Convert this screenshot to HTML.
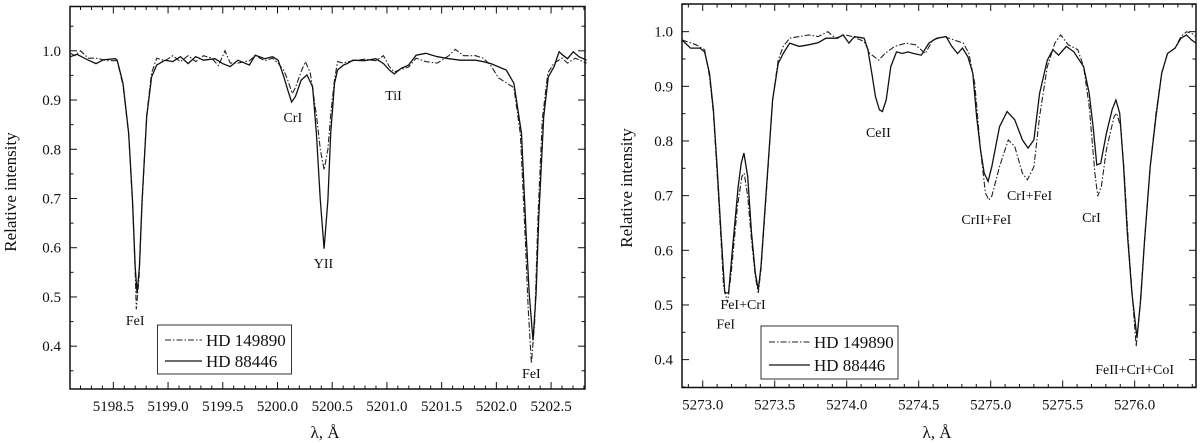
<!DOCTYPE html>
<html><head><meta charset="utf-8"><style>
html,body{margin:0;padding:0;background:#fff;}
svg{display:block;font-family:"Liberation Serif",serif;}
</style></head><body>
<svg id="chart" width="1200" height="443" viewBox="0 0 1200 443" xmlns="http://www.w3.org/2000/svg"></svg>
<script>
// ---- Left panel data ----
const leftSolidWl=[5198.108,5198.167,5198.272,5198.342,5198.412,5198.518,5198.535,5198.588,5198.640,5198.675,5198.700,5198.717,5198.738,5198.763,5198.805,5198.850,5198.896,5198.973,5199.043,5199.113,5199.183,5199.253,5199.323,5199.428,5199.498,5199.568,5199.638,5199.743,5199.796,5199.884,5199.954,5200.006,5200.059,5200.094,5200.129,5200.164,5200.216,5200.269,5200.321,5200.356,5200.391,5200.426,5200.461,5200.486,5200.521,5200.549,5200.602,5200.637,5200.689,5200.794,5200.899,5200.969,5201.022,5201.067,5201.127,5201.197,5201.267,5201.355,5201.460,5201.565,5201.670,5201.810,5201.880,5201.950,5202.090,5202.160,5202.230,5202.272,5202.300,5202.335,5202.363,5202.388,5202.433,5202.475,5202.528,5202.573,5202.608,5202.650,5202.703,5202.755,5202.825];
const leftSolidI=[0.988,0.993,0.981,0.974,0.982,0.984,0.981,0.934,0.832,0.697,0.561,0.507,0.561,0.697,0.866,0.947,0.971,0.981,0.978,0.988,0.974,0.988,0.981,0.984,0.974,0.968,0.981,0.971,0.991,0.984,0.988,0.981,0.947,0.920,0.896,0.907,0.940,0.951,0.927,0.832,0.697,0.598,0.697,0.832,0.934,0.961,0.971,0.974,0.981,0.980,0.984,0.974,0.961,0.953,0.964,0.971,0.991,0.995,0.988,0.984,0.981,0.981,0.978,0.974,0.961,0.934,0.832,0.629,0.507,0.412,0.507,0.663,0.866,0.947,0.968,0.998,0.991,0.984,0.998,0.988,0.981];
const leftDashWl=[5198.108,5198.150,5198.200,5198.272,5198.342,5198.450,5198.535,5198.588,5198.640,5198.675,5198.700,5198.710,5198.735,5198.763,5198.805,5198.850,5198.896,5198.973,5199.043,5199.113,5199.183,5199.253,5199.323,5199.400,5199.460,5199.520,5199.568,5199.638,5199.743,5199.796,5199.884,5199.954,5200.006,5200.059,5200.094,5200.135,5200.164,5200.220,5200.255,5200.300,5200.356,5200.391,5200.426,5200.461,5200.486,5200.520,5200.549,5200.602,5200.689,5200.794,5200.899,5200.969,5201.022,5201.067,5201.127,5201.197,5201.267,5201.355,5201.460,5201.565,5201.625,5201.700,5201.810,5201.880,5201.950,5202.020,5202.090,5202.160,5202.220,5202.262,5202.290,5202.320,5202.350,5202.380,5202.420,5202.470,5202.528,5202.600,5202.650,5202.720,5202.825];
const leftDashI=[0.995,0.990,1.000,0.985,0.985,0.980,0.980,0.930,0.830,0.690,0.550,0.475,0.540,0.690,0.870,0.955,0.985,0.980,0.990,0.978,0.990,0.978,0.990,0.985,0.970,1.000,0.975,0.975,0.980,0.990,0.980,0.985,0.975,0.960,0.940,0.913,0.925,0.960,0.978,0.955,0.870,0.800,0.758,0.800,0.870,0.940,0.978,0.975,0.980,0.983,0.980,0.990,0.968,0.957,0.962,0.967,0.985,0.978,0.975,0.990,1.003,0.990,0.990,0.985,0.970,0.945,0.935,0.925,0.830,0.630,0.480,0.365,0.450,0.660,0.860,0.955,0.975,0.985,0.975,0.985,0.975];
const leftXTicks=["5198.5","5199.0","5199.5","5200.0","5200.5","5201.0","5201.5","5202.0","5202.5"];
const leftYTicks=["0.4","0.5","0.6","0.7","0.8","0.9","1.0"];
const leftLabels=["FeI","CrI","YII","TiI","FeI"];
const leftLabelWl=[5198.70,5200.14,5200.42,5201.06,5202.32];
const leftLabelI=[0.443,0.855,0.559,0.900,0.335];
// ---- Right panel data ----
const rightSolidWl=[5272.856,5272.915,5272.981,5273.013,5273.047,5273.074,5273.100,5273.127,5273.153,5273.180,5273.206,5273.246,5273.267,5273.286,5273.312,5273.339,5273.365,5273.386,5273.405,5273.445,5273.485,5273.524,5273.559,5273.604,5273.670,5273.736,5273.803,5273.856,5273.935,5273.975,5274.015,5274.054,5274.121,5274.147,5274.174,5274.200,5274.227,5274.248,5274.274,5274.306,5274.346,5274.386,5274.425,5274.465,5274.518,5274.571,5274.624,5274.690,5274.730,5274.770,5274.804,5274.842,5274.876,5274.902,5274.929,5274.955,5274.982,5275.008,5275.061,5275.114,5275.167,5275.220,5275.260,5275.300,5275.340,5275.393,5275.432,5275.472,5275.525,5275.578,5275.645,5275.684,5275.711,5275.737,5275.764,5275.804,5275.843,5275.870,5275.896,5275.923,5275.949,5275.981,5276.016,5276.042,5276.069,5276.108,5276.148,5276.188,5276.228,5276.281,5276.321,5276.360,5276.395,5276.426];
const rightSolidI=[0.985,0.970,0.970,0.963,0.924,0.857,0.753,0.632,0.522,0.522,0.601,0.717,0.759,0.778,0.735,0.632,0.558,0.528,0.571,0.723,0.875,0.942,0.960,0.979,0.973,0.976,0.980,0.988,0.988,0.994,0.979,0.991,0.988,0.967,0.924,0.881,0.857,0.854,0.875,0.936,0.963,0.960,0.963,0.960,0.957,0.979,0.988,0.991,0.973,0.960,0.970,0.954,0.924,0.845,0.784,0.741,0.726,0.753,0.826,0.854,0.839,0.802,0.787,0.802,0.887,0.948,0.967,0.957,0.973,0.963,0.936,0.887,0.826,0.756,0.759,0.814,0.857,0.875,0.851,0.753,0.632,0.522,0.440,0.510,0.619,0.753,0.845,0.924,0.960,0.970,0.988,0.994,0.985,0.979];
const rightDashWl=[5272.856,5272.954,5273.013,5273.047,5273.074,5273.100,5273.127,5273.145,5273.172,5273.198,5273.241,5273.272,5273.288,5273.312,5273.339,5273.365,5273.386,5273.405,5273.445,5273.485,5273.524,5273.559,5273.604,5273.670,5273.736,5273.803,5273.869,5273.922,5273.988,5274.041,5274.121,5274.161,5274.222,5274.266,5274.333,5274.412,5274.478,5274.545,5274.598,5274.677,5274.743,5274.810,5274.849,5274.889,5274.929,5274.963,5274.987,5275.008,5275.061,5275.122,5275.167,5275.220,5275.255,5275.300,5275.340,5275.393,5275.446,5275.486,5275.539,5275.605,5275.645,5275.684,5275.724,5275.743,5275.769,5275.804,5275.857,5275.875,5275.902,5275.928,5275.955,5275.989,5276.011,5276.037,5276.069,5276.108,5276.148,5276.188,5276.228,5276.281,5276.321,5276.360,5276.395,5276.426];
const rightDashI=[0.985,0.976,0.967,0.918,0.851,0.741,0.619,0.534,0.504,0.558,0.680,0.735,0.741,0.699,0.619,0.552,0.522,0.565,0.717,0.875,0.948,0.973,0.988,0.991,0.994,0.991,1.000,0.988,0.994,0.991,0.982,0.960,0.948,0.960,0.973,0.979,0.976,0.960,0.985,0.991,0.985,0.979,0.960,0.906,0.784,0.705,0.692,0.699,0.753,0.802,0.790,0.741,0.729,0.753,0.845,0.936,0.979,0.994,0.976,0.967,0.936,0.863,0.741,0.699,0.717,0.784,0.845,0.851,0.826,0.741,0.619,0.498,0.424,0.498,0.619,0.753,0.851,0.924,0.960,0.970,0.991,1.000,0.997,0.991];
const rightXTicks=["5273.0","5273.5","5274.0","5274.5","5275.0","5275.5","5276.0"];
const rightYTicks=["0.4","0.5","0.6","0.7","0.8","0.9","1.0"];
const rightLabels=["FeI","FeI+CrI","CeII","CrII+FeI","CrI+FeI","CrI","FeII+CrI+CoI"];
const rightLabelWl=[5273.16,5273.28,5274.22,5274.97,5275.27,5275.70,5276.00];
const rightLabelI=[0.457,0.493,0.807,0.648,0.692,0.652,0.374];

const NS="http://www.w3.org/2000/svg";
const svg=document.getElementById('chart');
function mk(tag,attrs,parent){const e=document.createElementNS(NS,tag);for(const k in attrs)e.setAttribute(k,attrs[k]);(parent||svg).appendChild(e);return e;}

function panel(cfg){
  const g=mk('g',{});
  
  
  const xs=v=>cfg.x0+(v-cfg.xmin)/(cfg.xmax-cfg.xmin)*(cfg.x1-cfg.x0);
  const ys=v=>cfg.y1-(v-cfg.ymin)/(cfg.ymax-cfg.ymin)*(cfg.y1-cfg.y0);
  const s1=mk('polyline',{points:cfg.dashWl.map((w,i)=>xs(w).toFixed(1)+','+ys(cfg.dashI[i]).toFixed(1)).join(' '),fill:'none',stroke:'#222','stroke-width':1.1,'stroke-dasharray':'6,2,1.5,2'},g);
  
  
  const s2=mk('polyline',{points:cfg.solidWl.map((w,i)=>xs(w).toFixed(1)+','+ys(cfg.solidI[i]).toFixed(1)).join(' '),fill:'none',stroke:'#111','stroke-width':1.3},g);
  
  
  const fr=mk('rect',{x:cfg.x0,y:cfg.y0,width:cfg.x1-cfg.x0,height:cfg.y1-cfg.y0,fill:'none',stroke:'#111','stroke-width':1.5},g);
  
  
  const xt=mk('g',{stroke:'#111','stroke-width':1},g);
  
  
  for(let k=Math.ceil(cfg.xmin*10);k<=Math.floor(cfg.xmax*10);k++){
    const x=xs(k/10);const major=(k%5===0);const L=major?7:3.5;
    mk('line',{x1:x,x2:x,y1:cfg.y1,y2:cfg.y1-L},xt);
    mk('line',{x1:x,x2:x,y1:cfg.y0,y2:cfg.y0+L},xt);
  }
  cfg.xTicks.forEach(t=>{
    const tx=mk('text',{x:xs(parseFloat(t)),y:cfg.y1+22,'text-anchor':'middle','font-size':15,fill:'#111'},g);
    
    
    tx.textContent=t;
  });
  const yt=mk('g',{stroke:'#111','stroke-width':1},g);
  
  
  for(let k=Math.ceil(cfg.ymin*20);k<=Math.floor(cfg.ymax*20);k++){
    const y=ys(k/20);const major=(k%2===0);const L=major?7:3.5;
    mk('line',{x1:cfg.x0,x2:cfg.x0+L,y1:y,y2:y},yt);
    mk('line',{x1:cfg.x1,x2:cfg.x1-L,y1:y,y2:y},yt);
  }
  cfg.yTicks.forEach(t=>{
    const tx=mk('text',{x:cfg.x0-9,y:ys(parseFloat(t))+5,'text-anchor':'end','font-size':15,fill:'#111'},g);
    
    
    tx.textContent=t;
  });
  cfg.labels.forEach((t,i)=>{
    const tx=mk('text',{x:xs(cfg.labelWl[i]),y:ys(cfg.labelI[i]),'text-anchor':'middle','font-size':14,fill:'#111'},g);
    
    
    tx.textContent=t;
  });
  const xtl=mk('text',{x:cfg.xTitleX,y:438,'text-anchor':'middle','font-size':17,fill:'#111'},g);
  
  
  xtl.textContent='λ, Å';
  const ytl=mk('text',{x:0,y:0,'text-anchor':'middle','font-size':17,fill:'#111',transform:`translate(${cfg.yTitleX},${cfg.yTitleY}) rotate(-90)`},g);
  
  
  ytl.textContent='Relative intensity';
  const lg=mk('g',{},g);
  
  
  const L=cfg.legend;
  mk('rect',{x:L.x,y:L.y,width:L.w,height:L.h,fill:'#fff',stroke:'#333','stroke-width':1},lg);
  const e1=mk('g',{},lg);
  
  
  mk('line',{x1:L.lx0,x2:L.lx1,y1:L.e1,y2:L.e1,stroke:'#222','stroke-width':1.1,'stroke-dasharray':'6,2,1.5,2'},e1);
  const t1=mk('text',{x:L.tx,y:L.e1+6,'font-size':17,fill:'#111'},e1);t1.textContent='HD 149890';
  const e2=mk('g',{},lg);
  
  
  mk('line',{x1:L.lx0,x2:L.lx1,y1:L.e2,y2:L.e2,stroke:'#111','stroke-width':1.3},e2);
  const t2=mk('text',{x:L.tx,y:L.e2+6,'font-size':17,fill:'#111'},e2);t2.textContent='HD 88446';
}

panel({name:'left-panel',x0:70,x1:585,y0:6.5,y1:389,xmin:5198.104,xmax:5202.81,ymin:0.313,ymax:1.09,
  solidWl:leftSolidWl,solidI:leftSolidI,dashWl:leftDashWl,dashI:leftDashI,xTicks:leftXTicks,yTicks:leftYTicks,
  labels:leftLabels,labelWl:leftLabelWl,labelI:leftLabelI,xTitleX:325,yTitleX:16,yTitleY:192,
  legend:{x:157.5,y:325,w:134,h:49,lx0:165,lx1:202,tx:206,e1:340,e2:361}});
panel({name:'right-panel',x0:682,x1:1196,y0:4,y1:387.5,xmin:5272.856,xmax:5276.426,ymin:0.349,ymax:1.0506,
  solidWl:rightSolidWl,solidI:rightSolidI,dashWl:rightDashWl,dashI:rightDashI,xTicks:rightXTicks,yTicks:rightYTicks,
  labels:rightLabels,labelWl:rightLabelWl,labelI:rightLabelI,xTitleX:937,yTitleX:632,yTitleY:188,
  legend:{x:761,y:326,w:137,h:53,lx0:769,lx1:810,tx:814,e1:342,e2:365}});
</script>
</body></html>
